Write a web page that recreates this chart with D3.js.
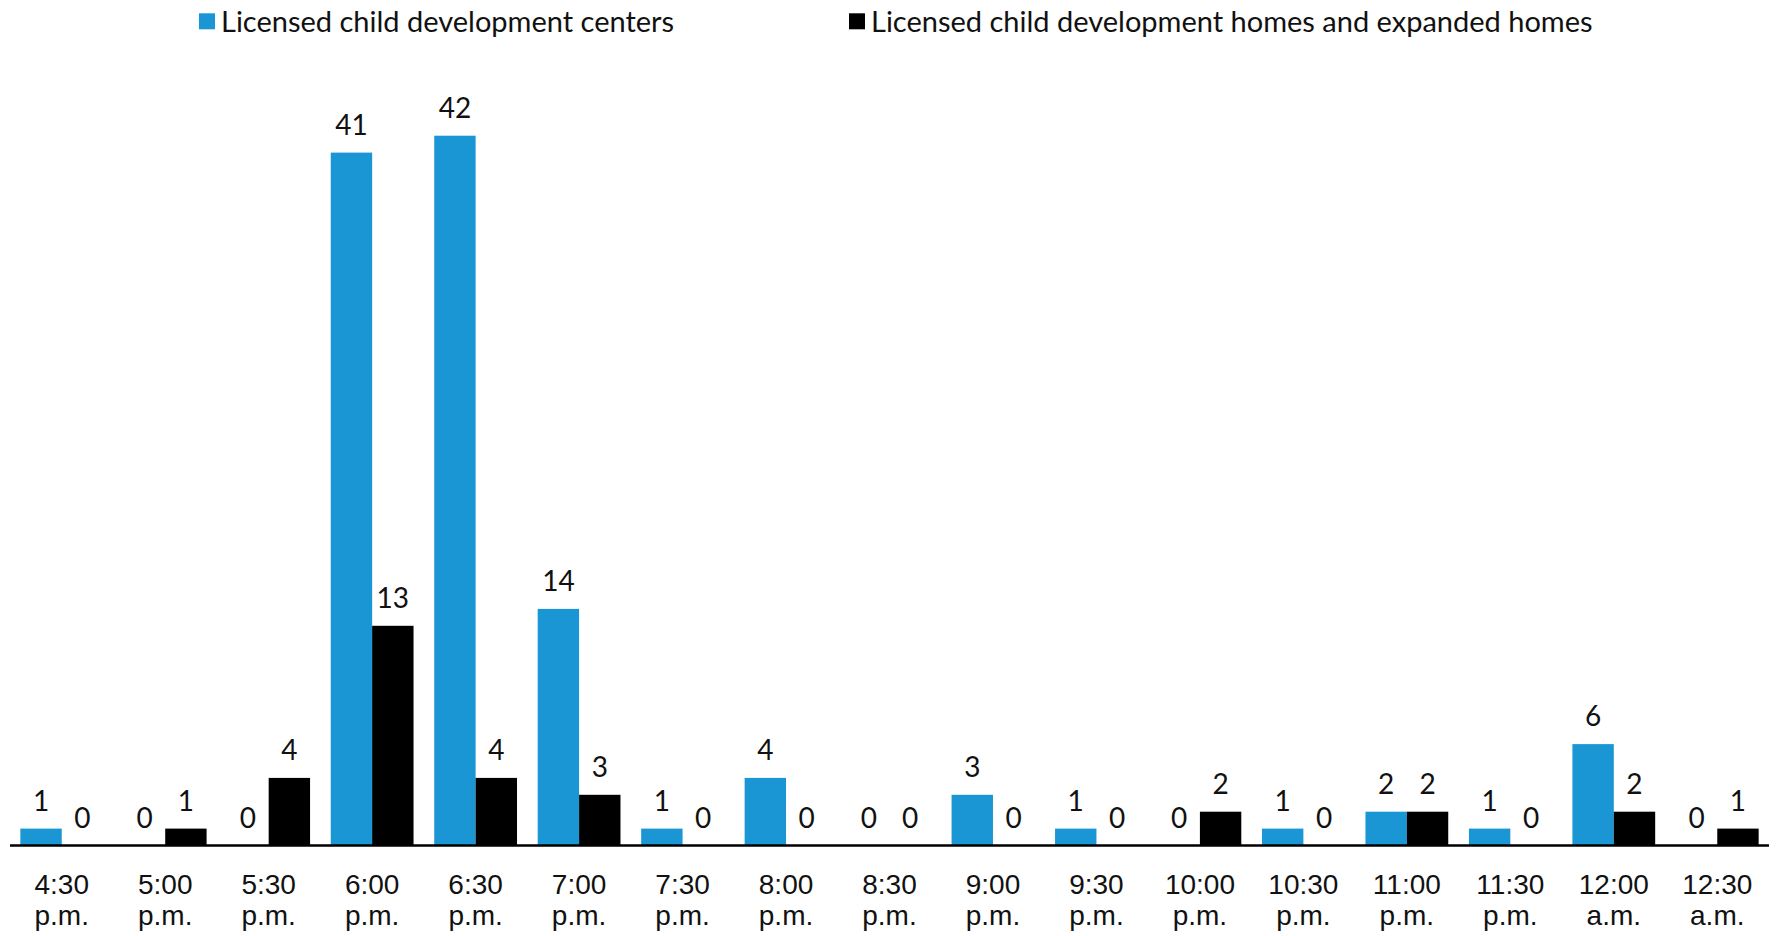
<!DOCTYPE html>
<html>
<head>
<meta charset="utf-8">
<script src="https://cdn.jsdelivr.net/npm/d3@7"></script>
<style>
  html, body { margin: 0; padding: 0; background: #fff; }
  svg { display: block; font-family: Lato, "Open Sans", sans-serif; }
</style>
</head>
<body>
<svg id="chart" width="1777" height="936"></svg>
<script>
// Closing times (two-line tick labels)
const timeLabels = ["4:30", "5:00", "5:30", "6:00", "6:30", "7:00", "7:30", "8:00", "8:30",
                    "9:00", "9:30", "10:00", "10:30", "11:00", "11:30", "12:00", "12:30"];
const periodLabels = ["p.m.", "p.m.", "p.m.", "p.m.", "p.m.", "p.m.", "p.m.", "p.m.", "p.m.",
                      "p.m.", "p.m.", "p.m.", "p.m.", "p.m.", "p.m.", "a.m.", "a.m."];

// Counts of providers by latest closing time
const centers = [1, 0, 0, 41, 42, 14, 1, 4, 0, 3, 1, 0, 1, 2, 1, 6, 0];
const homes   = [0, 1, 4, 13, 4, 3, 0, 0, 0, 0, 0, 2, 0, 2, 0, 2, 1];

const seriesNames = ["Licensed child development centers",
                     "Licensed child development homes and expanded homes"];
const seriesColors = ["#1a96d4", "#000000"];

const svg = d3.select("#chart");
const baseline = 845.5;
const left = 10, right = 1769;

const x = d3.scaleBand().domain(timeLabels).range([left, right]).paddingInner(0.2).paddingOuter(0.1);
const xs = d3.scaleBand().domain([0, 1]).range([0, x.bandwidth()]);
const y = d3.scaleLinear().domain([0, 45]).range([baseline, 85]);

const rows = timeLabels.map((t, i) => ({ t, vals: [centers[i], homes[i]] }));

const groups = svg.append("g").selectAll("g").data(rows).join("g")
  .attr("transform", d => `translate(${x(d.t)},0)`);

groups.selectAll("rect").data(d => d.vals.map((v, s) => ({ v, s }))).join("rect")
  .attr("x", d => xs(d.s))
  .attr("width", xs.bandwidth())
  .attr("y", d => y(d.v))
  .attr("height", d => baseline - y(d.v))
  .attr("fill", d => seriesColors[d.s]);

groups.selectAll("text.val").data(d => d.vals.map((v, s) => ({ v, s }))).join("text")
  .attr("class", "val")
  .attr("x", d => xs(d.s) + xs.bandwidth() / 2)
  .attr("y", d => y(d.v) - 18)
  .attr("text-anchor", "middle")
  .attr("font-size", 28)
  .attr("fill", "#111")
  .text(d => d.v);

// Category axis with two-line labels
const axis = svg.append("g").attr("transform", `translate(0,${baseline})`)
  .call(d3.axisBottom(x).tickSize(0).tickFormat(""));
axis.select(".domain").attr("stroke", "#000").attr("stroke-width", 2.5)
  .attr("d", `M${left},0H${right}`);
axis.selectAll(".tick text").remove();
axis.selectAll(".tick").each(function (d, i) {
  const t = d3.select(this).append("text")
    .attr("text-anchor", "middle").attr("font-size", 28).attr("fill", "#111");
  t.append("tspan").attr("x", 0).attr("y", 48.5).text(timeLabels[i]);
  t.append("tspan").attr("x", 0).attr("y", 79.5).text(periodLabels[i]);
});

// Legend
const legendX = [199, 849];
const legend = svg.append("g").selectAll("g").data(seriesNames).join("g")
  .attr("transform", (d, i) => `translate(${legendX[i]},0)`);
legend.append("rect").attr("x", 0).attr("y", 13.3).attr("width", 16).attr("height", 16)
  .attr("fill", (d, i) => seriesColors[i]);
legend.append("text").attr("x", 22).attr("y", 31.7).attr("font-size", 29)
  .attr("fill", "#111").text(d => d);
</script>
</body>
</html>
